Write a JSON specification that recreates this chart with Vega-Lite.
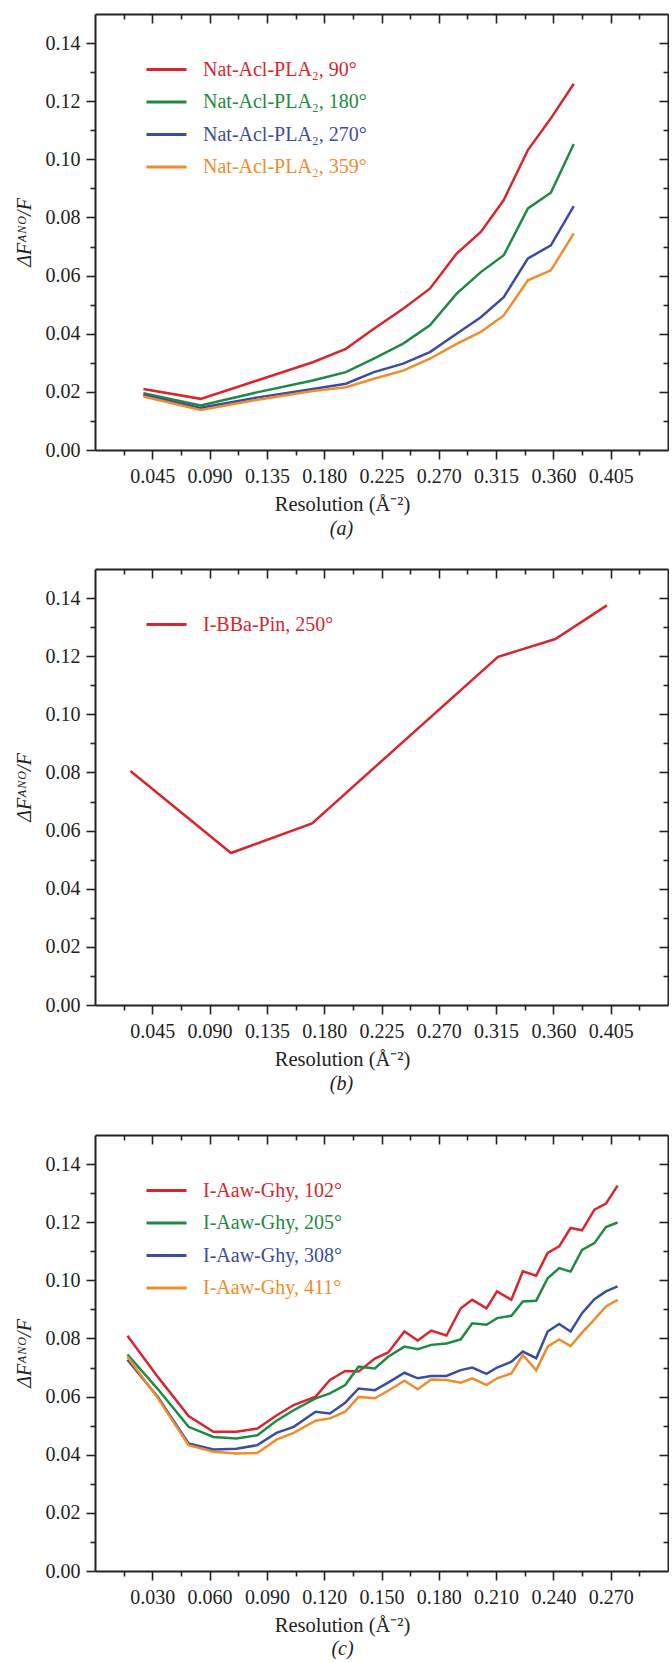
{
  "$schema": "https://vega.github.io/schema/vega-lite/v6.json",
  "padding": {"left": 14, "top": 13, "right": 0, "bottom": 0},
  "config": {
    "view": {"stroke": null},
    "axis": {"domainColor": "#222", "domainWidth": 2, "tickColor": "#222", "tickWidth": 1.6, "labelColor": "#222", "titleColor": "#222", "grid": false, "labelFlush": false, "labelOverlap": false}
  },
  "datasets": {
    "a": [
      {"s": "Nat-Acl-PLA₂, 90°", "x": 0.038, "y": 0.021}, {"s": "Nat-Acl-PLA₂, 90°", "x": 0.083, "y": 0.0176}, {"s": "Nat-Acl-PLA₂, 90°", "x": 0.128, "y": 0.024}, {"s": "Nat-Acl-PLA₂, 90°", "x": 0.171, "y": 0.0302}, {"s": "Nat-Acl-PLA₂, 90°", "x": 0.197, "y": 0.0348}, {"s": "Nat-Acl-PLA₂, 90°", "x": 0.219, "y": 0.0417}, {"s": "Nat-Acl-PLA₂, 90°", "x": 0.242, "y": 0.0486}, {"s": "Nat-Acl-PLA₂, 90°", "x": 0.263, "y": 0.0555}, {"s": "Nat-Acl-PLA₂, 90°", "x": 0.284, "y": 0.0676}, {"s": "Nat-Acl-PLA₂, 90°", "x": 0.303, "y": 0.075}, {"s": "Nat-Acl-PLA₂, 90°", "x": 0.321, "y": 0.086}, {"s": "Nat-Acl-PLA₂, 90°", "x": 0.34, "y": 0.1032}, {"s": "Nat-Acl-PLA₂, 90°", "x": 0.358, "y": 0.1141}, {"s": "Nat-Acl-PLA₂, 90°", "x": 0.376, "y": 0.126},
      {"s": "Nat-Acl-PLA₂, 180°", "x": 0.038, "y": 0.0195}, {"s": "Nat-Acl-PLA₂, 180°", "x": 0.083, "y": 0.0153}, {"s": "Nat-Acl-PLA₂, 180°", "x": 0.128, "y": 0.0199}, {"s": "Nat-Acl-PLA₂, 180°", "x": 0.171, "y": 0.0239}, {"s": "Nat-Acl-PLA₂, 180°", "x": 0.197, "y": 0.0268}, {"s": "Nat-Acl-PLA₂, 180°", "x": 0.219, "y": 0.0314}, {"s": "Nat-Acl-PLA₂, 180°", "x": 0.242, "y": 0.0366}, {"s": "Nat-Acl-PLA₂, 180°", "x": 0.263, "y": 0.0429}, {"s": "Nat-Acl-PLA₂, 180°", "x": 0.284, "y": 0.0538}, {"s": "Nat-Acl-PLA₂, 180°", "x": 0.303, "y": 0.0612}, {"s": "Nat-Acl-PLA₂, 180°", "x": 0.321, "y": 0.067}, {"s": "Nat-Acl-PLA₂, 180°", "x": 0.34, "y": 0.0831}, {"s": "Nat-Acl-PLA₂, 180°", "x": 0.358, "y": 0.0885}, {"s": "Nat-Acl-PLA₂, 180°", "x": 0.376, "y": 0.1053},
      {"s": "Nat-Acl-PLA₂, 270°", "x": 0.038, "y": 0.0189}, {"s": "Nat-Acl-PLA₂, 270°", "x": 0.083, "y": 0.0145}, {"s": "Nat-Acl-PLA₂, 270°", "x": 0.128, "y": 0.0181}, {"s": "Nat-Acl-PLA₂, 270°", "x": 0.171, "y": 0.021}, {"s": "Nat-Acl-PLA₂, 270°", "x": 0.197, "y": 0.0228}, {"s": "Nat-Acl-PLA₂, 270°", "x": 0.219, "y": 0.0268}, {"s": "Nat-Acl-PLA₂, 270°", "x": 0.242, "y": 0.0297}, {"s": "Nat-Acl-PLA₂, 270°", "x": 0.263, "y": 0.0337}, {"s": "Nat-Acl-PLA₂, 270°", "x": 0.284, "y": 0.04}, {"s": "Nat-Acl-PLA₂, 270°", "x": 0.303, "y": 0.0457}, {"s": "Nat-Acl-PLA₂, 270°", "x": 0.321, "y": 0.0526}, {"s": "Nat-Acl-PLA₂, 270°", "x": 0.34, "y": 0.0659}, {"s": "Nat-Acl-PLA₂, 270°", "x": 0.358, "y": 0.0704}, {"s": "Nat-Acl-PLA₂, 270°", "x": 0.376, "y": 0.0839},
      {"s": "Nat-Acl-PLA₂, 359°", "x": 0.038, "y": 0.0184}, {"s": "Nat-Acl-PLA₂, 359°", "x": 0.083, "y": 0.0138}, {"s": "Nat-Acl-PLA₂, 359°", "x": 0.128, "y": 0.0173}, {"s": "Nat-Acl-PLA₂, 359°", "x": 0.171, "y": 0.0203}, {"s": "Nat-Acl-PLA₂, 359°", "x": 0.197, "y": 0.0216}, {"s": "Nat-Acl-PLA₂, 359°", "x": 0.219, "y": 0.0245}, {"s": "Nat-Acl-PLA₂, 359°", "x": 0.242, "y": 0.0273}, {"s": "Nat-Acl-PLA₂, 359°", "x": 0.263, "y": 0.0314}, {"s": "Nat-Acl-PLA₂, 359°", "x": 0.284, "y": 0.0365}, {"s": "Nat-Acl-PLA₂, 359°", "x": 0.303, "y": 0.0406}, {"s": "Nat-Acl-PLA₂, 359°", "x": 0.321, "y": 0.0463}, {"s": "Nat-Acl-PLA₂, 359°", "x": 0.34, "y": 0.0584}, {"s": "Nat-Acl-PLA₂, 359°", "x": 0.358, "y": 0.0618}, {"s": "Nat-Acl-PLA₂, 359°", "x": 0.376, "y": 0.0745}
    ],
    "b": [
      {"s": "I-BBa-Pin, 250°", "x": 0.0278, "y": 0.0805}, {"s": "I-BBa-Pin, 250°", "x": 0.1068, "y": 0.0523}, {"s": "I-BBa-Pin, 250°", "x": 0.1705, "y": 0.0625}, {"s": "I-BBa-Pin, 250°", "x": 0.3165, "y": 0.1198}, {"s": "I-BBa-Pin, 250°", "x": 0.3615, "y": 0.1259}, {"s": "I-BBa-Pin, 250°", "x": 0.402, "y": 0.1375}
    ],
    "c": [
      {"s": "I-Aaw-Ghy, 102°", "x": 0.017, "y": 0.0809}, {"s": "I-Aaw-Ghy, 102°", "x": 0.033, "y": 0.0667}, {"s": "I-Aaw-Ghy, 102°", "x": 0.049, "y": 0.0533}, {"s": "I-Aaw-Ghy, 102°", "x": 0.062, "y": 0.0479}, {"s": "I-Aaw-Ghy, 102°", "x": 0.074, "y": 0.0479}, {"s": "I-Aaw-Ghy, 102°", "x": 0.085, "y": 0.049}, {"s": "I-Aaw-Ghy, 102°", "x": 0.095, "y": 0.0535}, {"s": "I-Aaw-Ghy, 102°", "x": 0.104, "y": 0.0571}, {"s": "I-Aaw-Ghy, 102°", "x": 0.1155, "y": 0.06}, {"s": "I-Aaw-Ghy, 102°", "x": 0.123, "y": 0.0657}, {"s": "I-Aaw-Ghy, 102°", "x": 0.131, "y": 0.0688}, {"s": "I-Aaw-Ghy, 102°", "x": 0.138, "y": 0.0686}, {"s": "I-Aaw-Ghy, 102°", "x": 0.1465, "y": 0.0731}, {"s": "I-Aaw-Ghy, 102°", "x": 0.1535, "y": 0.0752}, {"s": "I-Aaw-Ghy, 102°", "x": 0.162, "y": 0.0824}, {"s": "I-Aaw-Ghy, 102°", "x": 0.169, "y": 0.0793}, {"s": "I-Aaw-Ghy, 102°", "x": 0.176, "y": 0.0827}, {"s": "I-Aaw-Ghy, 102°", "x": 0.184, "y": 0.081}, {"s": "I-Aaw-Ghy, 102°", "x": 0.1915, "y": 0.0904}, {"s": "I-Aaw-Ghy, 102°", "x": 0.1975, "y": 0.0933}, {"s": "I-Aaw-Ghy, 102°", "x": 0.205, "y": 0.0904}, {"s": "I-Aaw-Ghy, 102°", "x": 0.2105, "y": 0.0962}, {"s": "I-Aaw-Ghy, 102°", "x": 0.218, "y": 0.0933}, {"s": "I-Aaw-Ghy, 102°", "x": 0.224, "y": 0.1031}, {"s": "I-Aaw-Ghy, 102°", "x": 0.231, "y": 0.1016}, {"s": "I-Aaw-Ghy, 102°", "x": 0.237, "y": 0.1094}, {"s": "I-Aaw-Ghy, 102°", "x": 0.243, "y": 0.1117}, {"s": "I-Aaw-Ghy, 102°", "x": 0.249, "y": 0.118}, {"s": "I-Aaw-Ghy, 102°", "x": 0.255, "y": 0.1172}, {"s": "I-Aaw-Ghy, 102°", "x": 0.2615, "y": 0.1243}, {"s": "I-Aaw-Ghy, 102°", "x": 0.2675, "y": 0.1264}, {"s": "I-Aaw-Ghy, 102°", "x": 0.2736, "y": 0.1326},
      {"s": "I-Aaw-Ghy, 205°", "x": 0.017, "y": 0.0745}, {"s": "I-Aaw-Ghy, 205°", "x": 0.033, "y": 0.0625}, {"s": "I-Aaw-Ghy, 205°", "x": 0.049, "y": 0.0496}, {"s": "I-Aaw-Ghy, 205°", "x": 0.062, "y": 0.0461}, {"s": "I-Aaw-Ghy, 205°", "x": 0.074, "y": 0.0456}, {"s": "I-Aaw-Ghy, 205°", "x": 0.085, "y": 0.0467}, {"s": "I-Aaw-Ghy, 205°", "x": 0.095, "y": 0.0517}, {"s": "I-Aaw-Ghy, 205°", "x": 0.104, "y": 0.0553}, {"s": "I-Aaw-Ghy, 205°", "x": 0.1155, "y": 0.0594}, {"s": "I-Aaw-Ghy, 205°", "x": 0.123, "y": 0.0611}, {"s": "I-Aaw-Ghy, 205°", "x": 0.131, "y": 0.064}, {"s": "I-Aaw-Ghy, 205°", "x": 0.138, "y": 0.0703}, {"s": "I-Aaw-Ghy, 205°", "x": 0.1465, "y": 0.0697}, {"s": "I-Aaw-Ghy, 205°", "x": 0.1535, "y": 0.0737}, {"s": "I-Aaw-Ghy, 205°", "x": 0.162, "y": 0.0772}, {"s": "I-Aaw-Ghy, 205°", "x": 0.169, "y": 0.0763}, {"s": "I-Aaw-Ghy, 205°", "x": 0.176, "y": 0.0778}, {"s": "I-Aaw-Ghy, 205°", "x": 0.184, "y": 0.0783}, {"s": "I-Aaw-Ghy, 205°", "x": 0.1915, "y": 0.0797}, {"s": "I-Aaw-Ghy, 205°", "x": 0.1975, "y": 0.0852}, {"s": "I-Aaw-Ghy, 205°", "x": 0.205, "y": 0.0847}, {"s": "I-Aaw-Ghy, 205°", "x": 0.2105, "y": 0.087}, {"s": "I-Aaw-Ghy, 205°", "x": 0.218, "y": 0.0878}, {"s": "I-Aaw-Ghy, 205°", "x": 0.224, "y": 0.0927}, {"s": "I-Aaw-Ghy, 205°", "x": 0.231, "y": 0.093}, {"s": "I-Aaw-Ghy, 205°", "x": 0.237, "y": 0.1007}, {"s": "I-Aaw-Ghy, 205°", "x": 0.243, "y": 0.1042}, {"s": "I-Aaw-Ghy, 205°", "x": 0.249, "y": 0.103}, {"s": "I-Aaw-Ghy, 205°", "x": 0.255, "y": 0.1105}, {"s": "I-Aaw-Ghy, 205°", "x": 0.2615, "y": 0.1128}, {"s": "I-Aaw-Ghy, 205°", "x": 0.2675, "y": 0.1183}, {"s": "I-Aaw-Ghy, 205°", "x": 0.2736, "y": 0.1199},
      {"s": "I-Aaw-Ghy, 308°", "x": 0.017, "y": 0.0727}, {"s": "I-Aaw-Ghy, 308°", "x": 0.033, "y": 0.0598}, {"s": "I-Aaw-Ghy, 308°", "x": 0.049, "y": 0.0439}, {"s": "I-Aaw-Ghy, 308°", "x": 0.062, "y": 0.0418}, {"s": "I-Aaw-Ghy, 308°", "x": 0.074, "y": 0.0421}, {"s": "I-Aaw-Ghy, 308°", "x": 0.085, "y": 0.0433}, {"s": "I-Aaw-Ghy, 308°", "x": 0.095, "y": 0.0475}, {"s": "I-Aaw-Ghy, 308°", "x": 0.104, "y": 0.0496}, {"s": "I-Aaw-Ghy, 308°", "x": 0.1155, "y": 0.0548}, {"s": "I-Aaw-Ghy, 308°", "x": 0.123, "y": 0.0542}, {"s": "I-Aaw-Ghy, 308°", "x": 0.131, "y": 0.0579}, {"s": "I-Aaw-Ghy, 308°", "x": 0.138, "y": 0.0628}, {"s": "I-Aaw-Ghy, 308°", "x": 0.1465, "y": 0.0622}, {"s": "I-Aaw-Ghy, 308°", "x": 0.1535, "y": 0.0648}, {"s": "I-Aaw-Ghy, 308°", "x": 0.162, "y": 0.0682}, {"s": "I-Aaw-Ghy, 308°", "x": 0.169, "y": 0.0663}, {"s": "I-Aaw-Ghy, 308°", "x": 0.176, "y": 0.0671}, {"s": "I-Aaw-Ghy, 308°", "x": 0.184, "y": 0.0671}, {"s": "I-Aaw-Ghy, 308°", "x": 0.1915, "y": 0.0691}, {"s": "I-Aaw-Ghy, 308°", "x": 0.1975, "y": 0.07}, {"s": "I-Aaw-Ghy, 308°", "x": 0.205, "y": 0.0678}, {"s": "I-Aaw-Ghy, 308°", "x": 0.2105, "y": 0.07}, {"s": "I-Aaw-Ghy, 308°", "x": 0.218, "y": 0.072}, {"s": "I-Aaw-Ghy, 308°", "x": 0.224, "y": 0.0755}, {"s": "I-Aaw-Ghy, 308°", "x": 0.231, "y": 0.0732}, {"s": "I-Aaw-Ghy, 308°", "x": 0.237, "y": 0.0824}, {"s": "I-Aaw-Ghy, 308°", "x": 0.243, "y": 0.085}, {"s": "I-Aaw-Ghy, 308°", "x": 0.249, "y": 0.0824}, {"s": "I-Aaw-Ghy, 308°", "x": 0.255, "y": 0.0887}, {"s": "I-Aaw-Ghy, 308°", "x": 0.2615, "y": 0.0935}, {"s": "I-Aaw-Ghy, 308°", "x": 0.2675, "y": 0.0962}, {"s": "I-Aaw-Ghy, 308°", "x": 0.2736, "y": 0.0979},
      {"s": "I-Aaw-Ghy, 411°", "x": 0.017, "y": 0.0737}, {"s": "I-Aaw-Ghy, 411°", "x": 0.033, "y": 0.0594}, {"s": "I-Aaw-Ghy, 411°", "x": 0.049, "y": 0.0433}, {"s": "I-Aaw-Ghy, 411°", "x": 0.062, "y": 0.041}, {"s": "I-Aaw-Ghy, 411°", "x": 0.074, "y": 0.0404}, {"s": "I-Aaw-Ghy, 411°", "x": 0.085, "y": 0.0406}, {"s": "I-Aaw-Ghy, 411°", "x": 0.095, "y": 0.0452}, {"s": "I-Aaw-Ghy, 411°", "x": 0.104, "y": 0.0475}, {"s": "I-Aaw-Ghy, 411°", "x": 0.1155, "y": 0.0517}, {"s": "I-Aaw-Ghy, 411°", "x": 0.123, "y": 0.0525}, {"s": "I-Aaw-Ghy, 411°", "x": 0.131, "y": 0.0548}, {"s": "I-Aaw-Ghy, 411°", "x": 0.138, "y": 0.0599}, {"s": "I-Aaw-Ghy, 411°", "x": 0.1465, "y": 0.0594}, {"s": "I-Aaw-Ghy, 411°", "x": 0.1535, "y": 0.062}, {"s": "I-Aaw-Ghy, 411°", "x": 0.162, "y": 0.0655}, {"s": "I-Aaw-Ghy, 411°", "x": 0.169, "y": 0.0625}, {"s": "I-Aaw-Ghy, 411°", "x": 0.176, "y": 0.0659}, {"s": "I-Aaw-Ghy, 411°", "x": 0.184, "y": 0.0657}, {"s": "I-Aaw-Ghy, 411°", "x": 0.1915, "y": 0.0648}, {"s": "I-Aaw-Ghy, 411°", "x": 0.1975, "y": 0.0663}, {"s": "I-Aaw-Ghy, 411°", "x": 0.205, "y": 0.064}, {"s": "I-Aaw-Ghy, 411°", "x": 0.2105, "y": 0.0663}, {"s": "I-Aaw-Ghy, 411°", "x": 0.218, "y": 0.068}, {"s": "I-Aaw-Ghy, 411°", "x": 0.224, "y": 0.0743}, {"s": "I-Aaw-Ghy, 411°", "x": 0.231, "y": 0.0691}, {"s": "I-Aaw-Ghy, 411°", "x": 0.237, "y": 0.0772}, {"s": "I-Aaw-Ghy, 411°", "x": 0.243, "y": 0.0797}, {"s": "I-Aaw-Ghy, 411°", "x": 0.249, "y": 0.0774}, {"s": "I-Aaw-Ghy, 411°", "x": 0.255, "y": 0.082}, {"s": "I-Aaw-Ghy, 411°", "x": 0.2615, "y": 0.0866}, {"s": "I-Aaw-Ghy, 411°", "x": 0.2675, "y": 0.091}, {"s": "I-Aaw-Ghy, 411°", "x": 0.2736, "y": 0.0933}
    ]
  },
  "bounds": "flush",
  "spacing": 119,
  "resolve": {"scale": {"color": "independent"}, "legend": {"color": "independent"}},
  "vconcat": [
    {
      "width": 573, "height": 436,
      "data": {"name": "a"},
      "title": {"text": "(a)", "orient": "bottom", "font": "Times New Roman", "fontSize": 20, "fontStyle": "italic", "fontWeight": "normal", "color": "#222", "dx": -40, "offset": 4},
      "resolve": {"axis": {"x": "independent", "y": "independent"}},
      "layer": [
        {"mark": {"type": "line", "strokeWidth": 2.5},
         "encoding": {
           "x": {"field": "x", "type": "quantitative", "scale": {"domain": [0, 0.45], "nice": false, "zero": false}, "axis": {"orient": "bottom", "values": [0.045, 0.09, 0.135, 0.18, 0.225, 0.27, 0.315, 0.36, 0.405], "format": ".3f", "title": "Resolution (Å⁻²)", "titleX": 247, "tickSize": 9, "labelPadding": 7, "titlePadding": 8, "labelFont": "Times New Roman", "titleFont": "Times New Roman", "labelFontSize": 20, "titleFontSize": 20.5, "titleFontWeight": "normal"}},
           "y": {"field": "y", "type": "quantitative", "scale": {"domain": [0, 0.15], "nice": false, "zero": false}, "axis": {"orient": "left", "values": [0, 0.02, 0.04, 0.06, 0.08, 0.1, 0.12, 0.14], "format": ".2f", "title": "ΔFᴬᴺᴼ/F", "titleFontStyle": "italic", "tickSize": 9, "labelPadding": 6, "titlePadding": 11, "labelFont": "Times New Roman", "titleFont": "Times New Roman", "labelFontSize": 20, "titleFontSize": 20, "titleFontWeight": "normal"}},
           "color": {"field": "s", "type": "nominal", "scale": {"domain": ["Nat-Acl-PLA₂, 90°", "Nat-Acl-PLA₂, 180°", "Nat-Acl-PLA₂, 270°", "Nat-Acl-PLA₂, 359°"], "range": ["#d7262e", "#1f8a42", "#3b4d9f", "#f08c2b"]},
             "legend": {"orient": "none", "legendX": 60, "legendY": 44, "title": null, "symbolType": "M-2,0L2,0", "symbolSize": 400, "symbolStrokeWidth": 3, "labelFont": "Times New Roman", "labelFontSize": 20, "labelOffset": 25, "rowPadding": 10.5, "padding": 0, "labelLimit": 400,
               "encode": {"labels": {"update": {"fill": {"signal": "['#d7262e','#1f8a42','#3b4d9f','#f08c2b'][datum.index]"}}}}}}
         }},
        {"mark": {"type": "point", "opacity": 0},
         "encoding": {
           "x": {"field": "x", "type": "quantitative", "axis": {"orient": "bottom", "values": [0.0225, 0.0675, 0.1125, 0.1575, 0.2025, 0.2475, 0.2925, 0.3375, 0.3825, 0.4275], "labels": false, "domain": false, "tickSize": 5, "title": null}},
           "y": {"field": "y", "type": "quantitative", "axis": {"orient": "left", "values": [0.01, 0.03, 0.05, 0.07, 0.09, 0.11, 0.13], "labels": false, "domain": false, "tickSize": 5, "title": null}}
         }},
        {"mark": {"type": "point", "opacity": 0},
         "encoding": {
           "x": {"field": "x", "type": "quantitative", "axis": {"orient": "top", "values": [0.045, 0.09, 0.135, 0.18, 0.225, 0.27, 0.315, 0.36, 0.405], "labels": false, "tickSize": -9, "title": null}},
           "y": {"field": "y", "type": "quantitative", "axis": {"orient": "right", "values": [0.02, 0.04, 0.06, 0.08, 0.1, 0.12, 0.14], "labels": false, "tickSize": -9, "title": null}}
         }},
        {"mark": {"type": "point", "opacity": 0},
         "encoding": {
           "x": {"field": "x", "type": "quantitative", "axis": {"orient": "top", "values": [0.0225, 0.0675, 0.1125, 0.1575, 0.2025, 0.2475, 0.2925, 0.3375, 0.3825, 0.4275], "labels": false, "domain": false, "tickSize": -5, "title": null}},
           "y": {"field": "y", "type": "quantitative", "axis": {"orient": "right", "values": [0.01, 0.03, 0.05, 0.07, 0.09, 0.11, 0.13], "labels": false, "domain": false, "tickSize": -5, "title": null}}
         }}
      ]
    },
    {
      "bounds": "flush",
      "spacing": 130,
      "resolve": {"scale": {"color": "independent"}, "legend": {"color": "independent"}},
      "vconcat": [
        {
          "width": 573, "height": 436,
          "data": {"name": "b"},
          "title": {"text": "(b)", "orient": "bottom", "font": "Times New Roman", "fontSize": 20, "fontStyle": "italic", "fontWeight": "normal", "color": "#222", "dx": -40, "offset": 4},
          "resolve": {"axis": {"x": "independent", "y": "independent"}},
          "layer": [
            {"mark": {"type": "line", "strokeWidth": 2.5},
             "encoding": {
               "x": {"field": "x", "type": "quantitative", "scale": {"domain": [0, 0.45], "nice": false, "zero": false}, "axis": {"orient": "bottom", "values": [0.045, 0.09, 0.135, 0.18, 0.225, 0.27, 0.315, 0.36, 0.405], "format": ".3f", "title": "Resolution (Å⁻²)", "titleX": 247, "tickSize": 9, "labelPadding": 7, "titlePadding": 8, "labelFont": "Times New Roman", "titleFont": "Times New Roman", "labelFontSize": 20, "titleFontSize": 20.5, "titleFontWeight": "normal"}},
               "y": {"field": "y", "type": "quantitative", "scale": {"domain": [0, 0.15], "nice": false, "zero": false}, "axis": {"orient": "left", "values": [0, 0.02, 0.04, 0.06, 0.08, 0.1, 0.12, 0.14], "format": ".2f", "title": "ΔFᴬᴺᴼ/F", "titleFontStyle": "italic", "tickSize": 9, "labelPadding": 6, "titlePadding": 11, "labelFont": "Times New Roman", "titleFont": "Times New Roman", "labelFontSize": 20, "titleFontSize": 20, "titleFontWeight": "normal"}},
               "color": {"field": "s", "type": "nominal", "scale": {"domain": ["I-BBa-Pin, 250°"], "range": ["#d7262e"]},
                 "legend": {"orient": "none", "legendX": 60, "legendY": 44, "title": null, "symbolType": "M-2,0L2,0", "symbolSize": 400, "symbolStrokeWidth": 3, "labelFont": "Times New Roman", "labelFontSize": 20, "labelOffset": 25, "rowPadding": 10.5, "padding": 0, "labelLimit": 400,
                   "encode": {"labels": {"update": {"fill": {"value": "#d7262e"}}}}}}
             }},
            {"mark": {"type": "point", "opacity": 0},
             "encoding": {
               "x": {"field": "x", "type": "quantitative", "axis": {"orient": "bottom", "values": [0.0225, 0.0675, 0.1125, 0.1575, 0.2025, 0.2475, 0.2925, 0.3375, 0.3825, 0.4275], "labels": false, "domain": false, "tickSize": 5, "title": null}},
               "y": {"field": "y", "type": "quantitative", "axis": {"orient": "left", "values": [0.01, 0.03, 0.05, 0.07, 0.09, 0.11, 0.13], "labels": false, "domain": false, "tickSize": 5, "title": null}}
             }},
            {"mark": {"type": "point", "opacity": 0},
             "encoding": {
               "x": {"field": "x", "type": "quantitative", "axis": {"orient": "top", "values": [0.045, 0.09, 0.135, 0.18, 0.225, 0.27, 0.315, 0.36, 0.405], "labels": false, "tickSize": -9, "title": null}},
               "y": {"field": "y", "type": "quantitative", "axis": {"orient": "right", "values": [0.02, 0.04, 0.06, 0.08, 0.1, 0.12, 0.14], "labels": false, "tickSize": -9, "title": null}}
             }},
            {"mark": {"type": "point", "opacity": 0},
             "encoding": {
               "x": {"field": "x", "type": "quantitative", "axis": {"orient": "top", "values": [0.0225, 0.0675, 0.1125, 0.1575, 0.2025, 0.2475, 0.2925, 0.3375, 0.3825, 0.4275], "labels": false, "domain": false, "tickSize": -5, "title": null}},
               "y": {"field": "y", "type": "quantitative", "axis": {"orient": "right", "values": [0.01, 0.03, 0.05, 0.07, 0.09, 0.11, 0.13], "labels": false, "domain": false, "tickSize": -5, "title": null}}
             }}
          ]
        },
        {
          "width": 573, "height": 436,
          "data": {"name": "c"},
          "title": {"text": "(c)", "orient": "bottom", "font": "Times New Roman", "fontSize": 20, "fontStyle": "italic", "fontWeight": "normal", "color": "#222", "dx": -39, "offset": 3},
          "resolve": {"axis": {"x": "independent", "y": "independent"}},
          "layer": [
            {"mark": {"type": "line", "strokeWidth": 2.5},
             "encoding": {
               "x": {"field": "x", "type": "quantitative", "scale": {"domain": [0, 0.3], "nice": false, "zero": false}, "axis": {"orient": "bottom", "values": [0.03, 0.06, 0.09, 0.12, 0.15, 0.18, 0.21, 0.24, 0.27], "format": ".3f", "title": "Resolution (Å⁻²)", "titleX": 247, "tickSize": 9, "labelPadding": 7, "titlePadding": 8, "labelFont": "Times New Roman", "titleFont": "Times New Roman", "labelFontSize": 20, "titleFontSize": 20.5, "titleFontWeight": "normal"}},
               "y": {"field": "y", "type": "quantitative", "scale": {"domain": [0, 0.15], "nice": false, "zero": false}, "axis": {"orient": "left", "values": [0, 0.02, 0.04, 0.06, 0.08, 0.1, 0.12, 0.14], "format": ".2f", "title": "ΔFᴬᴺᴼ/F", "titleFontStyle": "italic", "tickSize": 9, "labelPadding": 6, "titlePadding": 11, "labelFont": "Times New Roman", "titleFont": "Times New Roman", "labelFontSize": 20, "titleFontSize": 20, "titleFontWeight": "normal"}},
               "color": {"field": "s", "type": "nominal", "scale": {"domain": ["I-Aaw-Ghy, 102°", "I-Aaw-Ghy, 205°", "I-Aaw-Ghy, 308°", "I-Aaw-Ghy, 411°"], "range": ["#d7262e", "#1f8a42", "#3b4d9f", "#f08c2b"]},
                 "legend": {"orient": "none", "legendX": 60, "legendY": 44, "title": null, "symbolType": "M-2,0L2,0", "symbolSize": 400, "symbolStrokeWidth": 3, "labelFont": "Times New Roman", "labelFontSize": 20, "labelOffset": 25, "rowPadding": 10.5, "padding": 0, "labelLimit": 400,
                   "encode": {"labels": {"update": {"fill": {"signal": "['#d7262e','#1f8a42','#3b4d9f','#f08c2b'][datum.index]"}}}}}}
             }},
            {"mark": {"type": "point", "opacity": 0},
             "encoding": {
               "x": {"field": "x", "type": "quantitative", "axis": {"orient": "bottom", "values": [0.015, 0.045, 0.075, 0.105, 0.135, 0.165, 0.195, 0.225, 0.255, 0.285], "labels": false, "domain": false, "tickSize": 5, "title": null}},
               "y": {"field": "y", "type": "quantitative", "axis": {"orient": "left", "values": [0.01, 0.03, 0.05, 0.07, 0.09, 0.11, 0.13], "labels": false, "domain": false, "tickSize": 5, "title": null}}
             }},
            {"mark": {"type": "point", "opacity": 0},
             "encoding": {
               "x": {"field": "x", "type": "quantitative", "axis": {"orient": "top", "values": [0.03, 0.06, 0.09, 0.12, 0.15, 0.18, 0.21, 0.24, 0.27], "labels": false, "tickSize": -9, "title": null}},
               "y": {"field": "y", "type": "quantitative", "axis": {"orient": "right", "values": [0.02, 0.04, 0.06, 0.08, 0.1, 0.12, 0.14], "labels": false, "tickSize": -9, "title": null}}
             }},
            {"mark": {"type": "point", "opacity": 0},
             "encoding": {
               "x": {"field": "x", "type": "quantitative", "axis": {"orient": "top", "values": [0.015, 0.045, 0.075, 0.105, 0.135, 0.165, 0.195, 0.225, 0.255, 0.285], "labels": false, "domain": false, "tickSize": -5, "title": null}},
               "y": {"field": "y", "type": "quantitative", "axis": {"orient": "right", "values": [0.01, 0.03, 0.05, 0.07, 0.09, 0.11, 0.13], "labels": false, "domain": false, "tickSize": -5, "title": null}}
             }}
          ]
        }
      ]
    }
  ]
}
